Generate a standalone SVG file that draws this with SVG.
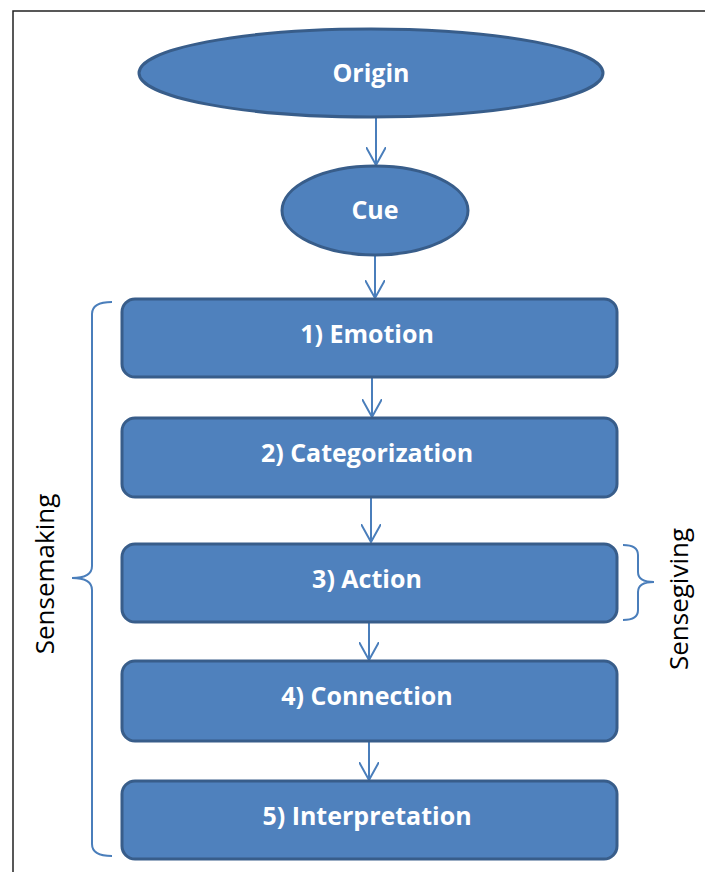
<svg xmlns="http://www.w3.org/2000/svg" width="705" height="872" viewBox="0 0 705 872">
<style>
.node{fill:#4f81bd;stroke:#385d8a;stroke-width:3}
.lbl{fill:#ffffff;font-family:"Open Sans","Liberation Sans",sans-serif;font-weight:bold;font-size:25px;text-anchor:middle}
.side{fill:#000000;font-family:"Open Sans","Liberation Sans",sans-serif;font-size:26px;text-anchor:middle}
.conn{stroke:#4a7ebb;stroke-width:2;fill:none}
.brace{stroke:#4a7ebb;stroke-width:2;fill:none}
</style>
<defs>
<marker id="arr" viewBox="0 0 20 20" refX="18" refY="10" markerWidth="20" markerHeight="20" markerUnits="userSpaceOnUse" orient="auto">
<path d="M0,0 L18,10 L0,20" fill="none" stroke="#4a7ebb" stroke-width="2"/>
</marker>
</defs>
<rect x="0" y="0" width="705" height="872" fill="#ffffff"/>
<rect x="13" y="11" width="720" height="900" fill="none" stroke="#222222" stroke-width="1.5"/>
<g id="connectors">
<path class="conn" d="M376,118 V165" marker-end="url(#arr)"/>
<path class="conn" d="M375,255 V298" marker-end="url(#arr)"/>
<path class="conn" d="M372,377 V417" marker-end="url(#arr)"/>
<path class="conn" d="M371,497 V542" marker-end="url(#arr)"/>
<path class="conn" d="M369,622 V660" marker-end="url(#arr)"/>
<path class="conn" d="M369,741 V780" marker-end="url(#arr)"/>
</g>
<g id="origin">
<ellipse class="node" cx="371" cy="73" rx="232" ry="44"/>
<text class="lbl" x="371" y="82">Origin</text>
</g>
<g id="cue">
<ellipse class="node" cx="375" cy="210.5" rx="93" ry="44.5"/>
<text class="lbl" x="375" y="219">Cue</text>
</g>
<g id="emotion">
<rect class="node" x="122" y="299" width="495" height="78" rx="13"/>
<text class="lbl" x="367" y="343">1) Emotion</text>
</g>
<g id="categorization">
<rect class="node" x="122" y="418" width="495" height="79" rx="13"/>
<text class="lbl" x="367" y="462">2) Categorization</text>
</g>
<g id="action">
<rect class="node" x="122" y="544" width="495" height="78" rx="13"/>
<text class="lbl" x="367" y="588">3) Action</text>
</g>
<g id="connection">
<rect class="node" x="122" y="661" width="495" height="80" rx="13"/>
<text class="lbl" x="367" y="705">4) Connection</text>
</g>
<g id="interpretation">
<rect class="node" x="122" y="781" width="495" height="78" rx="13"/>
<text class="lbl" x="367" y="825">5) Interpretation</text>
</g>
<g id="sensemaking">
<path class="brace" d="M112,302 Q92,302 92,314 V566 Q92,578 72,578 Q92,578 92,590 V844 Q92,856 112,856"/>
<text class="side" x="54" y="574" transform="rotate(-90 54 574)">Sensemaking</text>
</g>
<g id="sensegiving">
<path class="brace" d="M623,545 Q638,545 638,555 V572 Q638,582 654,582 Q638,582 638,592 V610 Q638,620 623,620"/>
<text class="side" x="688" y="599" transform="rotate(-90 688 599)">Sensegiving</text>
</g>
</svg>
